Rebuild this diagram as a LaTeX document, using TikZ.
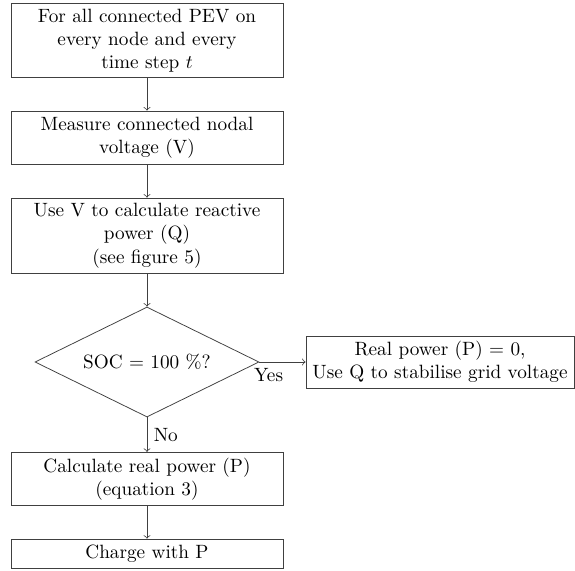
\documentclass[tikz,border=0pt]{standalone}
\usetikzlibrary{shapes.geometric}
\begin{document}
\begin{tikzpicture}[x=0.52pt,y=-0.52pt,
  box/.style={draw=black!75, rectangle, align=center, inner sep=0pt, minimum width=141.4pt},
  dec/.style={draw=black!75, diamond, align=center, inner sep=0pt, aspect=2.04, minimum width=116.5pt, minimum height=57.2pt},
  arr/.style={->, draw=black!75}]
\useasboundingbox (0,0) rectangle (575,570);
\node[box, minimum height=38.7pt] (b1) at (147,40.5) {For all connected PEV on\\every node and every\\time step $t$};
\node[box, minimum height=27.6pt] (b2) at (147,137.5) {Measure connected nodal\\voltage (V)};
\node[box, minimum height=39.2pt] (b3) at (147,235.7) {Use V to calculate reactive\\power (Q)\\(see figure 5)};
\node[dec] (d) at (147,362) {SOC $=$ 100 \%?};
\node[box, minimum height=27.8pt] (b4) at (147,479) {Calculate real power (P)\\(equation 3)};
\node[box, minimum height=15.2pt] (b5) at (147,553.7) {Charge with P};
\node[box, minimum width=139.4pt, minimum height=27pt] (r) at (440,362) {Real power (P) $=$ 0,\\Use Q to stabilise grid voltage};
\draw[arr] (b1) -- (b2);
\draw[arr] (b2) -- (b3);
\draw[arr] (b3) -- (d);
\draw[arr] (d.east) -- node[pos=0.2, below] {Yes} (r.west);
\draw[arr] (d.south) -- node[right] {No} (b4.north);
\draw[arr] (b4) -- (b5);
\end{tikzpicture}
\end{document}
